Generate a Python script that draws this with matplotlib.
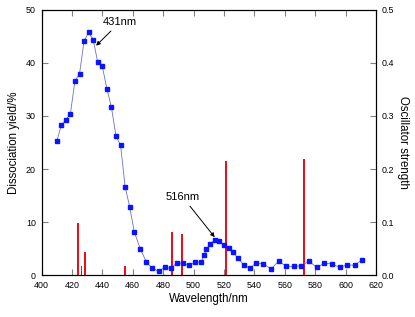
import matplotlib.pyplot as plt

plt.rcParams['font.family'] = ['Liberation Sans', 'DejaVu Sans']

# dissociation yield (%) vs wavelength (nm)
wavelength = [410, 413, 416, 419, 422, 425, 428, 431, 434, 437, 440, 443, 446, 449, 452,
              455, 458, 461, 465, 469, 473, 477, 481, 485, 489, 493, 497, 501, 505,
              507, 508.5, 511, 514, 517, 520, 523, 526, 529, 533, 537, 541, 546, 551,
              556, 561, 566, 571, 576, 581, 586, 591, 596, 601, 606, 611]
yield_pct = [25.2, 28.2, 29.2, 30.4, 36.6, 37.9, 44.1, 45.7, 44.3, 40.1, 39.3, 35.1, 31.6, 26.2, 24.5,
             16.7, 12.9, 8.2, 5.0, 2.5, 1.35, 0.8, 1.5, 1.35, 2.3, 2.3, 1.9, 2.5, 2.5,
             3.9, 5.0, 5.9, 6.7, 6.4, 5.7, 5.1, 4.4, 3.3, 2.0, 1.35, 2.3, 2.2, 1.2,
             2.7, 1.7, 1.7, 1.85, 2.7, 1.5, 2.3, 2.2, 1.5, 2.0, 1.9, 3.0]

# calculated transitions
trans_wl = [423.8, 426.4, 428.8, 454.9, 486.0, 492.6, 521.4, 572.7]
osc_strength = [0.099, 0.018, 0.044, 0.018, 0.082, 0.078, 0.216, 0.219]

fig = plt.figure(figsize=(4.15, 3.17), dpi=100)
ax = fig.add_axes([0.1, 0.131, 0.806, 0.839])
ax2 = ax.twinx()

ax2.bar(trans_wl, osc_strength, width=1.1, color='#e8101a', zorder=2)
ax2.set_ylim(0, 0.5)
ax2.set_yticks([0.0, 0.1, 0.2, 0.3, 0.4, 0.5])
ax2.set_ylabel('Oscillator strength', fontsize=8.3, rotation=270, labelpad=11)

ax.set_zorder(ax2.get_zorder() + 1)
ax.patch.set_visible(False)
ax.plot(wavelength, yield_pct, color='#6a72c8', lw=0.6, marker='s', ms=2.2,
        mfc='#0a14ff', mec='#0a14ff', zorder=3)

ax.set_xlim(400, 620)
ax.set_ylim(0, 50)
ax.set_xticks(range(400, 621, 20))
ax.set_yticks(range(0, 51, 10))
ax.set_xlabel('Wavelength/nm', fontsize=8.3, labelpad=2)
ax.set_ylabel('Dissociation yield/%', fontsize=8.3, labelpad=4)

for a in (ax, ax2):
    a.tick_params(direction='in', length=4, width=0.8, color='#808080',
                  labelsize=6.4, pad=4)
ax.tick_params(top=True, axis='x')

ax.annotate('431nm', xy=(435.9, 43.2), xytext=(451.5, 47.6), ha='center', va='center',
            fontsize=8, arrowprops=dict(arrowstyle='-|>', color='k', lw=0.7,
                                        mutation_scale=6, shrinkA=1, shrinkB=0))
ax.annotate('516nm', xy=(513.9, 7.2), xytext=(493, 14.7), ha='center', va='center',
            fontsize=8, arrowprops=dict(arrowstyle='-|>', color='k', lw=0.7,
                                        mutation_scale=6, shrinkA=1, shrinkB=0))

fig.savefig('out.png', dpi=100)
